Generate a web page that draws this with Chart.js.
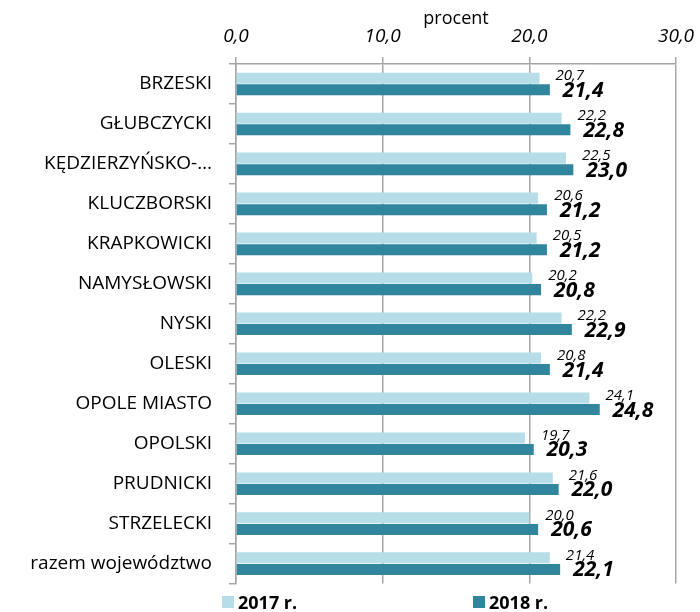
<!DOCTYPE html>
<html>
<head>
<meta charset="utf-8">
<script src="https://cdn.jsdelivr.net/npm/chart.js@4/dist/chart.umd.min.js"></script>
<style>
  html, body { margin: 0; padding: 0; background: #fff; }
  #wrap { position: relative; width: 700px; height: 612px; }
  #legend { position: absolute; left: 0; top: 591px; width: 700px; height: 22px;
    font: bold 18px "Open Sans", sans-serif; color: #000; }
  .item { position: absolute; top: 0; display: flex; align-items: center; line-height: 22px; }
  .sw { width: 12px; height: 12px; margin-right: 4px; }
</style>
</head>
<body>
<div id="wrap">
  <canvas id="chart" width="700" height="612"></canvas>
  <div id="legend"></div>
</div>
<script>
// ── Data ───────────────────────────────────────────────────
const categories = [
    'BRZESKI', 'GŁUBCZYCKI', 'KĘDZIERZYŃSKO-…', 'KLUCZBORSKI', 'KRAPKOWICKI',
    'NAMYSŁOWSKI', 'NYSKI', 'OLESKI', 'OPOLE MIASTO', 'OPOLSKI',
    'PRUDNICKI', 'STRZELECKI', 'razem województwo'
];
const values2017 = [20.7, 22.2, 22.5, 20.6, 20.5, 20.2, 22.2, 20.8, 24.1, 19.7, 21.6, 20.0, 21.4];
const values2018 = [21.4, 22.8, 23.0, 21.2, 21.2, 20.8, 22.9, 21.4, 24.8, 20.3, 22.0, 20.6, 22.1];
const seriesNames = ['2017 r.', '2018 r.'];
const xTicks = [0, 10, 20, 30];

// colour tokens
const C = {
    light: '#b7dee8',
    dark:  '#31859c',
    grid:  '#a6a6a6',
    text:  '#000000'
};
const FONT = '"Open Sans", sans-serif';

const fmt = v => v.toFixed(1).replace('.', ',');

// value labels next to bar ends
const valueLabels = {
    id: 'valueLabels',
    afterDatasetsDraw(chart) {
        const ctx = chart.ctx;
        ctx.save();
        ctx.fillStyle = C.text;
        ctx.textAlign = 'left';
        ctx.textBaseline = 'middle';
        chart.data.datasets.forEach((ds, i) => {
            const meta = chart.getDatasetMeta(i);
            ctx.font = i === 0 ? `italic 15px ${FONT}` : `italic bold 21px ${FONT}`;
            const dx = i === 0 ? 16 : 13;
            const dy = i === 0 ? -2 : 1;
            meta.data.forEach((bar, j) => {
                ctx.fillText(fmt(ds.data[j]), bar.x + dx, bar.y + dy);
            });
        });
        ctx.restore();
    }
};

new Chart(document.getElementById('chart'), {
    type: 'bar',
    data: {
        labels: categories,
        datasets: [
            { label: seriesNames[0], data: values2017, backgroundColor: C.light,
              categoryPercentage: 0.58, barPercentage: 0.95 },
            { label: seriesNames[1], data: values2018, backgroundColor: C.dark,
              categoryPercentage: 0.58, barPercentage: 0.95 }
        ]
    },
    options: {
        indexAxis: 'y',
        responsive: false,
        animation: false,
        layout: { padding: { left: 0, right: 24, top: 0, bottom: 23 } },
        plugins: {
            legend: { display: false },
            tooltip: { enabled: false }
        },
        scales: {
            x: {
                position: 'top',
                min: xTicks[0],
                max: xTicks[xTicks.length - 1],
                afterBuildTicks: s => { s.ticks = xTicks.map(v => ({ value: v })); },
                afterFit: s => { s.height = 64; s.paddingLeft = 0; s.paddingRight = 0; },
                ticks: {
                    color: C.text,
                    font: { family: FONT, size: 19, style: 'italic' },
                    padding: 9,
                    maxRotation: 0,
                    callback: v => fmt(v)
                },
                grid: { color: C.grid, lineWidth: 1.5, tickLength: 7 },
                border: { color: C.grid, width: 1.5 },
                title: {
                    display: true,
                    text: 'procent',
                    color: C.text,
                    font: { family: FONT, size: 18 },
                    padding: { top: 8, bottom: 0 }
                }
            },
            y: {
                afterFit: s => { s.width = 236; },
                ticks: {
                    color: C.text,
                    font: { family: FONT, size: 19 },
                    padding: 17
                },
                grid: { drawOnChartArea: false, color: C.grid, lineWidth: 1.5, tickLength: 7 },
                border: { color: C.grid, width: 1.5 }
            }
        }
    },
    plugins: [valueLabels]
});

// legend
const legend = document.getElementById('legend');
[[222, C.light], [473, C.dark]].forEach(([x, col], i) => {
    const el = document.createElement('div');
    el.className = 'item';
    el.style.left = x + 'px';
    el.innerHTML = `<span class="sw" style="background:${col}"></span><span>${seriesNames[i]}</span>`;
    legend.appendChild(el);
});
</script>
</body>
</html>
